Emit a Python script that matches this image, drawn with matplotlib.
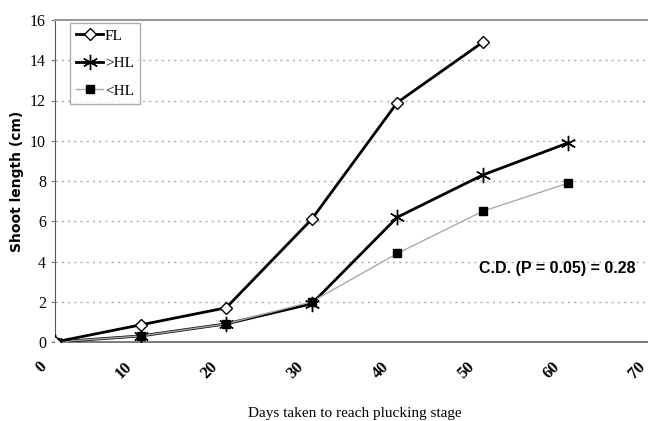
import matplotlib
matplotlib.use('Agg')
import matplotlib.pyplot as plt
import matplotlib.transforms as mtransforms

days = [0, 10, 20, 30, 40, 50, 60]
fl = [0, 0.85, 1.7, 6.1, 11.9, 14.9]
hl_gt = [0, 0.3, 0.9, 1.9, 6.2, 8.3, 9.9]
hl_lt = [0, 0.3, 0.9, 2.0, 4.4, 6.5, 7.9]
xticks = [0, 10, 20, 30, 40, 50, 60, 70]
yticks = [0, 2, 4, 6, 8, 10, 12, 14, 16]

serif = 'Liberation Serif'

fig = plt.figure(figsize=[6.48, 4.21], dpi=100)
ax = fig.add_axes([55/648, 1 - 342/421, 599/648, 322/421])

ax.plot(days[:len(fl)], fl, color='black', lw=2.0, marker='D', ms=6,
        mfc='white', mec='black', mew=1.0, label='FL', zorder=4)
ax.plot(days, hl_gt, color='black', lw=2.0, marker=(6, 2, 0), ms=11,
        mec='black', mew=1.0, label='>HL', zorder=3)
ax.plot(days, hl_lt, color='#aaaaaa', lw=1.0, marker='s', ms=6,
        mfc='black', mec='black', label='<HL', zorder=3)

ax.set_xlim(0, 70)
ax.set_ylim(0, 16)
ax.set_xticks(xticks)
ax.set_yticks(yticks)
ax.set_xticklabels([str(t) for t in xticks], rotation=45, family=serif,
                   fontsize=12, fontweight='bold', ha='right', va='top')
ax.set_yticklabels([str(t) for t in yticks], family=serif, fontsize=11.5)
ax.tick_params(axis='x', length=0, pad=12)
ax.tick_params(axis='y', length=3, width=0.8, color='#777777')

# nudge the rotated day labels a little to the left, as in the original
shift = mtransforms.ScaledTranslation(-5/100, 0, fig.dpi_scale_trans)
for lab in ax.get_xticklabels():
    lab.set_transform(lab.get_transform() + shift)

for y in yticks[1:-1]:
    ax.axhline(y, color='#aaaaaa', lw=1.0, ls=(0, (1.5, 3)), zorder=1)

ax.spines['right'].set_visible(False)
ax.spines['top'].set_color('#999999')
ax.spines['top'].set_linewidth(1.5)
ax.spines['left'].set_color('#555555')
ax.spines['bottom'].set_color('#666666')
ax.spines['bottom'].set_linewidth(1.2)

ax.set_ylabel('Shoot length (cm)', fontsize=10, fontweight='bold',
              family='DejaVu Sans', labelpad=4)
ax.set_xlabel('Days taken to reach plucking stage', fontsize=11,
              family=serif, labelpad=18)

fig.text(557/648, 1 - 268/421, 'C.D. (P = 0.05) = 0.28',
         fontsize=11.5, fontweight='bold', ha='center', va='center',
         family='Liberation Sans')

leg = ax.legend(loc='upper left', bbox_to_anchor=(0.012, 1.015), frameon=True,
                prop={'family': serif, 'size': 11}, handlelength=1.8,
                handletextpad=0.1, borderpad=0.4, labelspacing=0.9,
                fancybox=False, edgecolor='#999999')
leg.get_frame().set_linewidth(1.0)

fig.savefig('out.png', dpi=100)
